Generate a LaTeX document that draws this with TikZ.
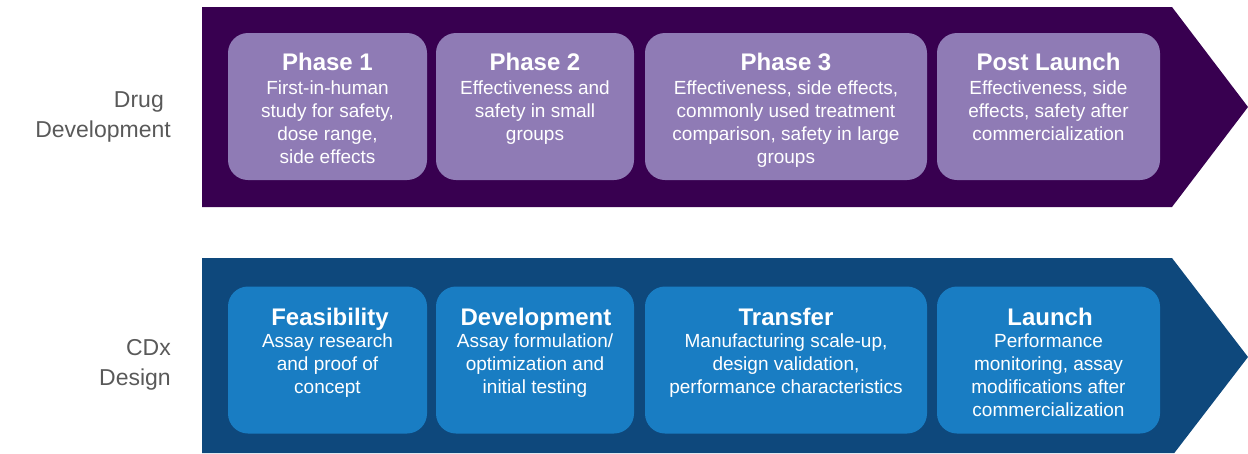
\documentclass[tikz,border=0pt]{standalone}
\usepackage{fontspec}
\setmainfont{Liberation Sans}

\definecolor{drugband}{HTML}{380050}
\definecolor{drugbox}{HTML}{8F7BB5}
\definecolor{cdxband}{HTML}{0E487C}
\definecolor{cdxbox}{HTML}{197DC3}
\definecolor{sidegray}{HTML}{595959}

\begin{document}
\begin{tikzpicture}[x=1pt,y=-1pt,
    box/.style={rounded corners=20pt,inner sep=0pt,minimum height=147},
    ttl/.style={text=white,font=\fontsize{24}{28}\selectfont\bfseries,anchor=base,inner sep=0pt},
    body/.style={text=white,font=\fontsize{19}{23}\selectfont,align=center,anchor=base,inner sep=0pt},
    side/.style={text=sidegray,font=\fontsize{23}{30}\selectfont,align=right,anchor=base east,inner sep=0pt}]
        \useasboundingbox (0,0) rectangle (1248,453);

        % arrow bands
        \fill[drugband] (202,7) -- (1172,7) -- (1248,107) -- (1172,207) -- (202,207) -- cycle;
        \fill[cdxband] (202,258) -- (1172,258) -- (1248,357) -- (1174.3,453) -- (202,453) -- cycle;

        % row labels (base = last line)
        \node[side] (drug) at (171,137) {Drug\hspace*{7pt}\\Development};
        \node[side] (cdx) at (171,385) {CDx\\Design};

        % drug development boxes
        \node[box,fill=drugbox,minimum width=199] (p1) at (327.5,106.5) {};
        \node[box,fill=drugbox,minimum width=198] (p2) at (535,106.5) {};
        \node[box,fill=drugbox,minimum width=282] (p3) at (786,106.5) {};
        \node[box,fill=drugbox,minimum width=223] (p4) at (1048.5,106.5) {};

        \node[ttl] (p1t) at (327.5,70) {Phase 1};
        \node[ttl] (p2t) at (535,70) {Phase 2};
        \node[ttl] (p3t) at (786,70) {Phase 3};
        \node[ttl] (p4t) at (1048.5,70) {Post Launch};

        \node[body] (p1b) at (327.5,163) {First-in-human\\study for safety,\\dose range,\\side effects};
        \node[body] (p2b) at (535,140) {Effectiveness and\\safety in small\\groups};
        \node[body] (p3b) at (786,163) {Effectiveness, side effects,\\commonly used treatment\\comparison, safety in large\\groups};
        \node[body] (p4b) at (1048.5,140) {Effectiveness, side\\effects, safety after\\commercialization};

        % CDx design boxes
        \node[box,fill=cdxbox,minimum width=199] (c1) at (327.5,360) {};
        \node[box,fill=cdxbox,minimum width=198] (c2) at (535,360) {};
        \node[box,fill=cdxbox,minimum width=282] (c3) at (786,360) {};
        \node[box,fill=cdxbox,minimum width=223] (c4) at (1048.5,360) {};

        \node[ttl] (c1t) at (330,325) {Feasibility};
        \node[ttl] (c2t) at (536,325) {Development};
        \node[ttl] (c3t) at (786,325) {Transfer};
        \node[ttl] (c4t) at (1050,325) {Launch};

        \node[body] (c1b) at (327.5,393) {Assay research\\and proof of\\concept};
        \node[body] (c2b) at (535,393) {Assay formulation/\\optimization and\\initial testing};
        \node[body] (c3b) at (786,393) {Manufacturing scale-up,\\design validation,\\performance characteristics};
        \node[body] (c4b) at (1048.5,416) {Performance\\monitoring, assay\\modifications after\\commercialization};
    \end{tikzpicture}
\end{document}
